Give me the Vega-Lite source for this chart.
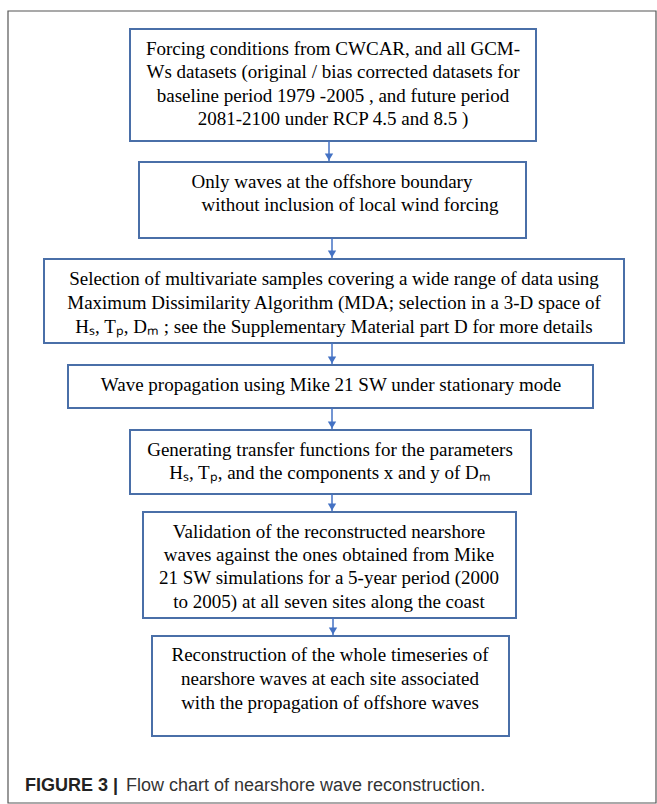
{
  "$schema": "https://vega.github.io/schema/vega-lite/v6.json",
  "width": 657,
  "height": 804,
  "padding": 0,
  "autosize": {"type": "fit", "contains": "padding"},
  "config": {"view": {"stroke": null}},
  "datasets": {
    "frame": [{"x1": 8, "x2": 656, "y1": 11, "y2": 803}],
    "boxes": [
      {"x1": 130, "x2": 536, "y1": 29, "y2": 141},
      {"x1": 139, "x2": 526, "y1": 162, "y2": 238},
      {"x1": 44, "x2": 624, "y1": 259, "y2": 343},
      {"x1": 68, "x2": 593, "y1": 365, "y2": 408},
      {"x1": 130, "x2": 531, "y1": 430, "y2": 494},
      {"x1": 143, "x2": 516, "y1": 512, "y2": 618},
      {"x1": 152, "x2": 509, "y1": 636, "y2": 736}
    ],
    "arrows": [
      {"x": 329, "y1": 141, "y2": 161},
      {"x": 332, "y1": 238, "y2": 258},
      {"x": 332, "y1": 343, "y2": 364},
      {"x": 332, "y1": 408, "y2": 429},
      {"x": 332, "y1": 494, "y2": 511},
      {"x": 333, "y1": 618, "y2": 635}
    ],
    "lines": [
      {"x": 333, "y": 49, "t": "Forcing conditions from CWCAR, and all GCM-"},
      {"x": 333, "y": 72, "t": "Ws datasets (original / bias corrected datasets for"},
      {"x": 333, "y": 96, "t": "baseline period 1979 -2005 , and future period"},
      {"x": 333, "y": 119, "t": "2081-2100 under RCP 4.5 and 8.5 )"},
      {"x": 332, "y": 182, "t": "Only waves at the offshore boundary"},
      {"x": 350, "y": 205, "t": "without inclusion of local wind forcing"},
      {"x": 334, "y": 279, "t": "Selection of  multivariate samples covering a wide range of data using"},
      {"x": 334, "y": 303, "t": "Maximum Dissimilarity Algorithm  (MDA; selection in a 3-D space of"},
      {"x": 334, "y": 327, "t": "Hₛ, Tₚ, Dₘ ; see the Supplementary Material part  D for more details"},
      {"x": 331, "y": 385, "t": "Wave propagation using Mike 21 SW under stationary mode"},
      {"x": 330, "y": 450, "t": "Generating transfer functions for the parameters"},
      {"x": 330, "y": 473, "t": "Hₛ, Tₚ, and the components x and y of Dₘ"},
      {"x": 329, "y": 532, "t": "Validation of the reconstructed nearshore"},
      {"x": 329, "y": 555, "t": "waves against the ones obtained from Mike"},
      {"x": 329, "y": 578, "t": "21 SW simulations for a 5-year period (2000"},
      {"x": 329, "y": 602, "t": "to 2005) at all seven sites along the coast"},
      {"x": 330, "y": 655, "t": "Reconstruction of the whole timeseries of"},
      {"x": 330, "y": 679, "t": "nearshore waves at each site associated"},
      {"x": 330, "y": 703, "t": "with the propagation of offshore waves"}
    ],
    "captionBold": [{"x": 25, "y": 786, "t": "FIGURE 3 |"}],
    "caption": [{"x": 126, "y": 786, "t": "Flow chart of nearshore wave reconstruction."}]
  },
  "layer": [
    {
      "data": {"name": "frame"},
      "mark": {"type": "rect", "fill": null, "stroke": "#555555", "strokeWidth": 1.2},
      "encoding": {
        "x": {"field": "x1", "type": "quantitative", "scale": {"domain": [0, 657], "nice": false}, "axis": null},
        "x2": {"field": "x2"},
        "y": {"field": "y1", "type": "quantitative", "scale": {"domain": [804, 0], "nice": false}, "axis": null},
        "y2": {"field": "y2"}
      }
    },
    {
      "data": {"name": "boxes"},
      "mark": {"type": "rect", "fill": "white", "stroke": "#4a6fa8", "strokeWidth": 2},
      "encoding": {
        "x": {"field": "x1", "type": "quantitative"},
        "x2": {"field": "x2"},
        "y": {"field": "y1", "type": "quantitative"},
        "y2": {"field": "y2"}
      }
    },
    {
      "data": {"name": "arrows"},
      "mark": {"type": "rule", "color": "#4472c4", "strokeWidth": 1.5},
      "encoding": {
        "x": {"field": "x", "type": "quantitative"},
        "y": {"field": "y1", "type": "quantitative"},
        "y2": {"field": "y2"}
      }
    },
    {
      "data": {"name": "arrows"},
      "mark": {"type": "point", "shape": "triangle-down", "filled": true, "color": "#4472c4", "size": 70, "opacity": 1, "yOffset": -4},
      "encoding": {
        "x": {"field": "x", "type": "quantitative"},
        "y": {"field": "y2", "type": "quantitative"}
      }
    },
    {
      "data": {"name": "lines"},
      "mark": {"type": "text", "font": "Liberation Serif", "fontSize": 19, "color": "#000000", "align": "center", "baseline": "middle"},
      "encoding": {
        "x": {"field": "x", "type": "quantitative"},
        "y": {"field": "y", "type": "quantitative"},
        "text": {"field": "t"}
      }
    },
    {
      "data": {"name": "captionBold"},
      "mark": {"type": "text", "font": "Liberation Sans", "fontSize": 18, "fontWeight": "bold", "color": "#222222", "align": "left", "baseline": "middle"},
      "encoding": {
        "x": {"field": "x", "type": "quantitative"},
        "y": {"field": "y", "type": "quantitative"},
        "text": {"field": "t"}
      }
    },
    {
      "data": {"name": "caption"},
      "mark": {"type": "text", "font": "Liberation Sans", "fontSize": 18, "color": "#333333", "align": "left", "baseline": "middle"},
      "encoding": {
        "x": {"field": "x", "type": "quantitative"},
        "y": {"field": "y", "type": "quantitative"},
        "text": {"field": "t"}
      }
    }
  ]
}
